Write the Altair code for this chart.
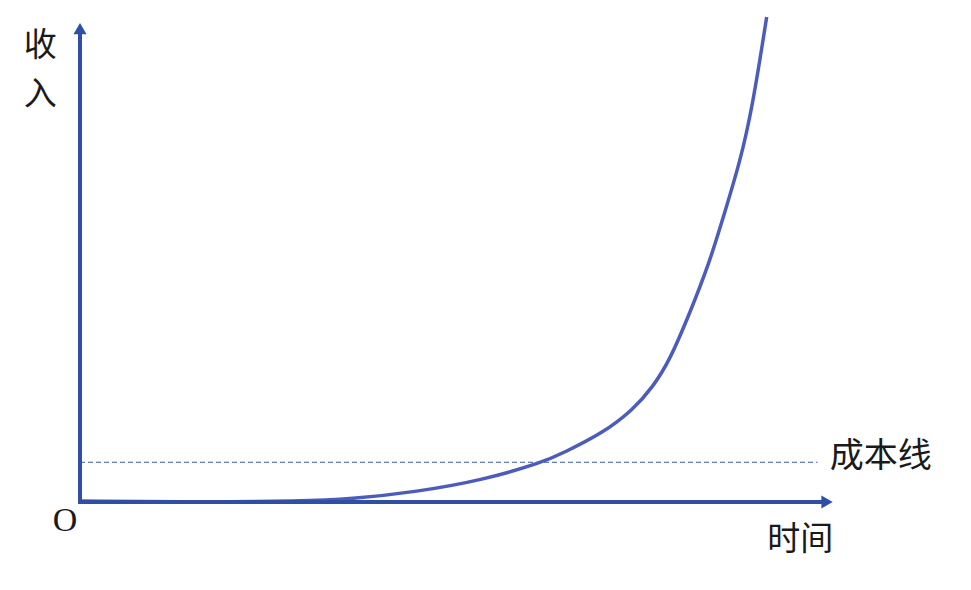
import altair as alt
import pandas as pd

# Revenue curve (time, revenue)
time_vals = [0.03, 1.75, 3.21, 3.94, 4.91, 5.87, 6.75, 7.04, 7.62, 8.06, 8.35, 8.60, 8.89, 9.18, 9.40, 9.62, 9.80, 10.01]
revenue_vals = [0.02, 0.0, 0.02, 0.06, 0.21, 0.45, 0.82, 1.01, 1.42, 1.90, 2.37, 2.93, 3.90, 4.95, 5.98, 7.01, 8.12, 10.0]

cost_level = 0.82
cost_end = 10.75
x_axis_end = 10.86
y_axis_end = 9.72

label_texts = ["收", "入", "O", "时间", "成本线"]
label_t = [-0.58, -0.58, -0.22, 10.50, 10.93]
label_v = [9.40, 8.39, -0.40, -0.78, 0.93]
label_align = ["center", "center", "center", "center", "left"]
label_font = ["Noto Sans CJK SC", "Noto Sans CJK SC", "Liberation Serif", "Noto Sans CJK SC", "Noto Sans CJK SC"]
label_size = [33, 33, 34, 33, 34]

W, H = 955, 574
xs = alt.Scale(domain=[-1.0496, 12.872], nice=False, zero=False)
ys = alt.Scale(domain=[-1.649, 10.186], nice=False, zero=False)

AXIS_C = "#2f4fa6"
CURVE_C = "#4c5cbc"

curve_df = pd.DataFrame({"t": time_vals, "v": revenue_vals})

curve = alt.Chart(curve_df).mark_line(
    color=CURVE_C, strokeWidth=3.5, interpolate="basis"
).encode(
    x=alt.X("t:Q", scale=xs, axis=None),
    y=alt.Y("v:Q", scale=ys, axis=None),
)

cost = alt.Chart(pd.DataFrame({"t": [0.0], "t2": [cost_end], "v": [cost_level]})).mark_rule(
    color="#3a55a0", strokeWidth=1, strokeDash=[5, 3]
).encode(x=alt.X("t:Q", scale=xs, axis=None), x2="t2:Q", y=alt.Y("v:Q", scale=ys, axis=None))

xaxis = alt.Chart(pd.DataFrame({"t": [0.0], "t2": [x_axis_end], "v": [0.0]})).mark_rule(
    color=AXIS_C, strokeWidth=4
).encode(x=alt.X("t:Q", scale=xs, axis=None), x2="t2:Q", y=alt.Y("v:Q", scale=ys, axis=None))

yaxis = alt.Chart(pd.DataFrame({"t": [0.0], "v": [-0.04], "v2": [y_axis_end]})).mark_rule(
    color=AXIS_C, strokeWidth=4
).encode(x=alt.X("t:Q", scale=xs, axis=None), y=alt.Y("v:Q", scale=ys, axis=None), y2="v2:Q")

xarrow = alt.Chart(pd.DataFrame({"t": [x_axis_end + 0.03], "v": [0.0]})).mark_point(
    shape="triangle-right", filled=True, color=AXIS_C, opacity=1, size=170
).encode(x=alt.X("t:Q", scale=xs, axis=None), y=alt.Y("v:Q", scale=ys, axis=None))

yarrow = alt.Chart(pd.DataFrame({"t": [0.0], "v": [y_axis_end + 0.04]})).mark_point(
    shape="triangle-up", filled=True, color=AXIS_C, opacity=1, size=170
).encode(x=alt.X("t:Q", scale=xs, axis=None), y=alt.Y("v:Q", scale=ys, axis=None))

lab_df = pd.DataFrame({"text": label_texts, "t": label_t, "v": label_v,
                       "align": label_align, "font": label_font, "size": label_size})
labels = []
for i in range(len(lab_df)):
    row = lab_df.iloc[[i]]
    labels.append(
        alt.Chart(row).mark_text(
            fontSize=int(row["size"].iloc[0]),
            font=row["font"].iloc[0], align=row["align"].iloc[0], baseline="middle",
            color="#1a1a1a"
        ).encode(x=alt.X("t:Q", scale=xs, axis=None), y=alt.Y("v:Q", scale=ys, axis=None), text="text:N")
    )

chart = alt.layer(cost, curve, xaxis, yaxis, xarrow, yarrow, *labels).properties(
    width=W, height=H, autosize=alt.AutoSizeParams(type="none"), padding=0,
    background="white"
).configure_view(stroke=None)

chart.save("out.html", embed_options={"renderer": "svg", "actions": False})
